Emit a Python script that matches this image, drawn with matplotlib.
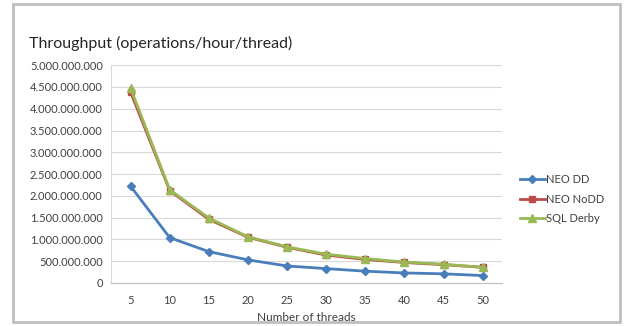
import numpy as np
import matplotlib
matplotlib.use("Agg")
import matplotlib.pyplot as plt
from matplotlib.patches import Rectangle
from matplotlib.ticker import FuncFormatter

plt.rcParams['font.family'] = ['Lato', 'DejaVu Sans']

# Data
threads = [5, 10, 15, 20, 25, 30, 35, 40, 45, 50]
neo_dd = np.array([2.22, 1.04, 0.72, 0.53, 0.39, 0.33, 0.27, 0.23, 0.21, 0.17]) * 1e9
neo_nodd = np.array([4.38, 2.12, 1.46, 1.05, 0.82, 0.64, 0.54, 0.47, 0.42, 0.36]) * 1e9
sql_derby = np.array([4.47, 2.14, 1.49, 1.06, 0.83, 0.66, 0.56, 0.48, 0.43, 0.36]) * 1e9

fig = plt.figure(figsize=(6.31, 3.26), dpi=100)
ax = fig.add_axes([0.176, 0.132, 0.620, 0.668])

x = np.arange(len(threads))
ax.plot(x, neo_dd, color='#4A7EBB', marker='D', markersize=4, lw=2, label='NEO DD')
ax.plot(x, neo_nodd, color='#BE4B48', marker='s', markersize=5, lw=2, label='NEO NoDD')
ax.plot(x, sql_derby, color='#98B954', marker='^', markersize=6, lw=2, label='SQL Derby')

ax.set_xlim(-0.5, len(threads) - 0.5)
ax.set_ylim(0, 5e9)
ax.set_yticks(np.arange(0, 5.01e9, 0.5e9))
ax.yaxis.set_major_formatter(FuncFormatter(lambda v, p: f"{int(round(v)):,}".replace(',', '.')))
ax.set_xticks(x)
ax.set_xticklabels([str(t) for t in threads])
ax.tick_params(length=0, labelsize=8, colors='#404040', pad=6)
ax.tick_params(axis='x', pad=9)
ax.grid(axis='y', color='#D9D9D9', lw=0.8)
ax.set_axisbelow(True)
for s in ['top', 'right']:
    ax.spines[s].set_visible(False)
ax.spines['left'].set_color('#D9D9D9')
ax.spines['bottom'].set_color('#BFBFBF')

ax.set_xlabel('Number of threads', fontsize=8.5, color='#404040', labelpad=4)
fig.text(0.046, 0.852, 'Throughput (operations/hour/thread)', fontsize=11.5, color='#262626')

ax.legend(loc='upper left', bbox_to_anchor=(1.02, 0.545), frameon=False, fontsize=8,
          handlelength=2.2, labelspacing=0.75, handletextpad=0.15, labelcolor='#404040')

fig.patches.append(Rectangle((0.021, 0.012), 0.962, 0.975, transform=fig.transFigure,
                             fill=False, edgecolor='#BFBFBF', lw=2))

fig.savefig('out.png', dpi=100)
